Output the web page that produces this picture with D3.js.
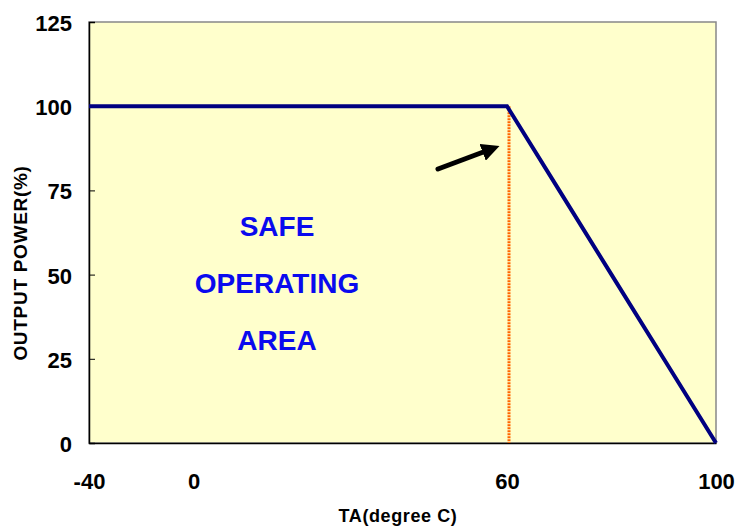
<!DOCTYPE html>
<html><head><meta charset="utf-8">
<script src="https://cdn.jsdelivr.net/npm/d3@7"></script>
<style>body{margin:0;background:#fff}svg{display:block;font-family:"Liberation Sans",Arial,sans-serif}</style>
</head><body><svg id="c" width="738" height="528"></svg>
<script>
const categories = [-40, -20, 0, 10, 20, 30, 40, 50, 60, 70, 80, 90, 100];
const shownLabels = ["-40", "0", "60", "100"];
const outputPower = [100, 100, 100, 100, 100, 100, 100, 100, 100, 75, 50, 25, 0];
const yTicks = [0, 25, 50, 75, 100, 125];
const deratingStart = 60;
const areaText = ["SAFE", "OPERATING", "AREA"];

const svg = d3.select("#c");
const L = 89, R = 716, T = 22, B = 443;
const x = d3.scalePoint().domain(categories).range([L, R]);
const y = d3.scaleLinear().domain([0, 125]).range([B, T]);

svg.append("rect").attr("x", L).attr("y", T).attr("width", R - L).attr("height", B - T)
  .attr("fill", "#FFFFCC").attr("stroke", "#888").attr("stroke-width", 1.5);

// y axis
const ya = svg.append("g").attr("transform", `translate(${L},0)`)
  .call(d3.axisRight(y).tickValues(yTicks).tickSize(6).tickFormat(""));
ya.select(".domain").attr("stroke", "#000").attr("stroke-width", 1.5);
ya.selectAll(".tick line").attr("stroke", "#000").attr("stroke-width", 1);
svg.selectAll(".ylab").data(yTicks).join("text")
  .attr("x", 72).attr("y", d => y(d) + 9).attr("text-anchor", "end")
  .attr("font-size", 22).attr("font-weight", "bold").text(d => d);

// x axis
const xa = svg.append("g").attr("transform", `translate(0,${B})`)
  .call(d3.axisBottom(x).tickSize(0).tickPadding(0).tickFormat(d => shownLabels.includes(String(d)) ? d : ""));
xa.select(".domain").attr("stroke", "#000").attr("stroke-width", 1.5);
xa.selectAll(".tick text").attr("font-size", 22).attr("font-weight", "bold")
  .attr("fill", "#000").attr("font-family", "Liberation Sans, Arial, sans-serif")
  .attr("dy", null).attr("y", 46);

// axis titles
svg.append("text").attr("x", 398).attr("y", 522).attr("text-anchor", "middle")
  .attr("font-size", 18).attr("font-weight", "bold").attr("letter-spacing", 0.6).text("TA(degree C)");
svg.append("text").attr("transform", "translate(27,263) rotate(-90)").attr("text-anchor", "middle")
  .attr("font-size", 19).attr("font-weight", "bold").attr("letter-spacing", 0.7).text("OUTPUT POWER(%)");

// orange dotted line
svg.append("line").attr("x1", x(deratingStart) + 2).attr("x2", x(deratingStart) + 2)
  .attr("y1", y(100)).attr("y2", B).attr("stroke", "#FF6600").attr("stroke-width", 3)
  .attr("stroke-dasharray", "2,1");

// curve
svg.append("path").datum(categories.map((c, i) => [c, outputPower[i]]))
  .attr("d", d3.line().x(d => x(d[0])).y(d => y(d[1])))
  .attr("fill", "none").attr("stroke", "#000080").attr("stroke-width", 4);

// arrow
svg.append("defs").append("marker").attr("id", "ah").attr("viewBox", "0 0 10 10")
  .attr("refX", 2).attr("refY", 5).attr("markerWidth", 3.6).attr("markerHeight", 3.6)
  .attr("orient", "auto").attr("markerUnits", "strokeWidth")
  .append("path").attr("d", "M0,0 L10,5 L0,10 Z").attr("fill", "#000");
svg.append("line").attr("x1", 438).attr("y1", 169).attr("x2", 486).attr("y2", 151)
  .attr("stroke", "#000").attr("stroke-width", 5).attr("stroke-linecap", "round")
  .attr("marker-end", "url(#ah)");

// text
svg.selectAll(".area").data(areaText).join("text")
  .attr("x", 277).attr("y", (d, i) => 236 + i * 57).attr("text-anchor", "middle")
  .attr("font-size", 28).attr("font-weight", "bold").attr("fill", "#0A0AEE").text(d => d);
</script></body></html>
